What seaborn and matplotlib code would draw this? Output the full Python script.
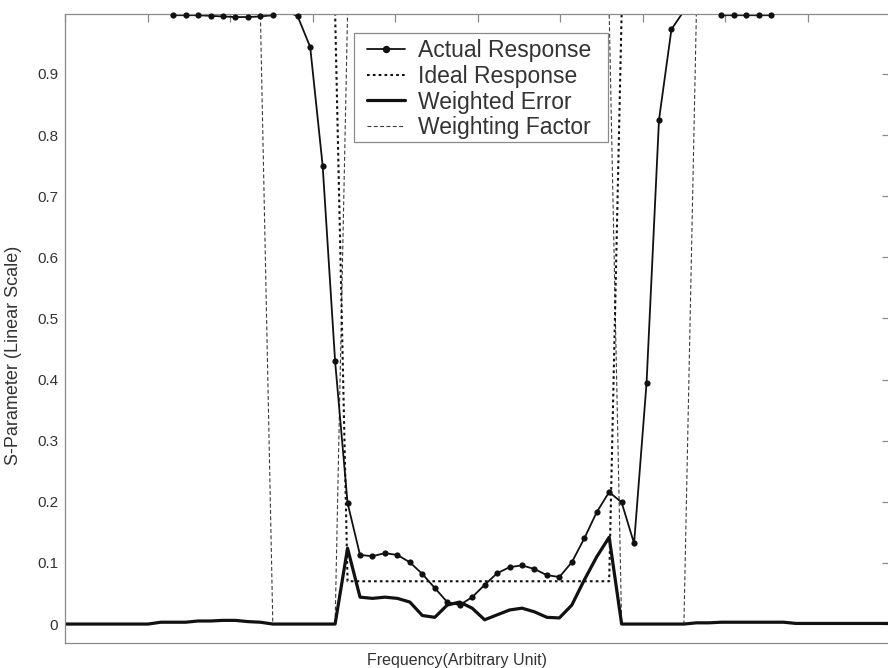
import numpy as np
import pandas as pd
import matplotlib
matplotlib.use("Agg")
import matplotlib.pyplot as plt
from matplotlib.lines import Line2D
from matplotlib.patches import Rectangle
import seaborn as sns

# Frequency sweep (arbitrary units), uniform step
freq = np.round(-0.048 + 0.151 * np.arange(68), 3)

# Simulated filter response |S|
actual = [1.002, 1.002, 1.002, 1.002, 1.002, 1.002, 1.002, 1.002, 1.003,
          0.996, 0.996, 0.996, 0.995, 0.994, 0.993, 0.993, 0.994, 0.996,
          1.004, 0.994, 0.944, 0.750, 0.430, 0.198,
          0.113, 0.111, 0.116, 0.113, 0.101, 0.082, 0.059, 0.036, 0.031,
          0.044, 0.064, 0.083, 0.093, 0.096, 0.090, 0.080, 0.077, 0.101,
          0.140, 0.183, 0.216, 0.199, 0.132, 0.394, 0.825, 0.973,
          1.003, 1.004, 1.004, 0.996, 0.996, 0.996, 0.996, 0.996, 1.003,
          1.002, 1.002, 1.002, 1.002, 1.002, 1.002, 1.002, 1.002, 1.002]

# Target mask: 1 in the stop bands, 0.07 in the pass band
ideal = [1.0] * 23 + [0.07] * 22 + [1.0] * 23

# Weighting: zero over the transition bands
weight = [1] * 17 + [0] * 6 + [1] * 22 + [0] * 6 + [1] * 17

# Weighted error
werror = [0, 0, 0, 0, 0, 0, 0, 0, 0.003,
          0.003, 0.003, 0.005, 0.005, 0.006, 0.006, 0.004, 0.003, 0,
          0, 0, 0, 0, 0, 0.124,
          0.044, 0.042, 0.044, 0.042, 0.036, 0.014, 0.011, 0.031, 0.036,
          0.026, 0.007, 0.015, 0.023, 0.026, 0.020, 0.011, 0.010, 0.031,
          0.072, 0.110, 0.142, 0, 0, 0, 0, 0, 0,
          0.002, 0.002, 0.003, 0.003, 0.003, 0.003, 0.003, 0.003,
          0.001, 0.001, 0.001, 0.001, 0.001, 0.001, 0.001, 0.001, 0.001]

series_labels = ["Actual Response", "Ideal Response", "Weighted Error", "Weighting Factor"]
y_ticks = [0, 0.1, 0.2, 0.3, 0.4, 0.5, 0.6, 0.7, 0.8, 0.9]
y_tick_labels = ["0", "0.1", "0.2", "0.3", "0.4", "0.5", "0.6", "0.7", "0.8", "0.9"]
x_ticks = [0, 1, 2, 3, 4, 5, 6, 7, 8, 9, 10]
x_label = "Frequency(Arbitrary Unit)"
y_label = "S-Parameter (Linear Scale)"

assert len(actual) == len(ideal) == len(weight) == len(werror) == len(freq)

sns.set_theme(style="white")
plt.rcParams["font.family"] = ["Liberation Sans", "DejaVu Sans"]

W, H, DPI = 888, 668, 100
AX_L, AX_R, AX_T, AX_B = 65, 890, 14, 643
AW, AH = AX_R - AX_L, AX_B - AX_T


def px_to_axes(px, py):
    return (px - AX_L) / AW, (AX_B - py) / AH


fig = plt.figure(figsize=(W / DPI, H / DPI), dpi=DPI)
fig.patch.set_facecolor("white")
ax = fig.add_axes([AX_L / W, 1 - AX_B / H, AW / W, AH / H])
ax.set_facecolor("white")

Y_TOP = 0.998
ax.set_xlim(0, 10)
ax.set_ylim(-0.031, Y_TOP)

line_col = "#111111"
dash_col = "#3a3a3a"

df = pd.DataFrame({"freq": freq, "actual": actual, "ideal": ideal,
                   "weight": weight, "werror": werror})

# weighting factor (thin dashed)
sns.lineplot(data=df, x="freq", y="weight", ax=ax, color=dash_col, lw=0.8,
             estimator=None, sort=False)
ax.lines[-1].set_dashes((3.5, 2.2))
# ideal response (dotted)
sns.lineplot(data=df, x="freq", y="ideal", ax=ax, color=line_col, lw=1.5,
             estimator=None, sort=False)
ax.lines[-1].set_dashes((1.3, 1.5))
# weighted error (thick solid)
sns.lineplot(data=df, x="freq", y="werror", ax=ax, color=line_col, lw=2.3,
             estimator=None, sort=False)
# actual response (line with dots)
sns.lineplot(data=df, x="freq", y="actual", ax=ax, color=line_col, lw=1.3,
             estimator=None, sort=False)
inside = df[df["actual"] <= Y_TOP]
sns.scatterplot(data=inside, x="freq", y="actual", ax=ax, color=line_col,
                s=20, linewidth=0, zorder=5)
ax.collections[-1].set_clip_on(False)

# axes styling
spine_col = "#8a8a8a"
for sp in ax.spines.values():
    sp.set_color(spine_col)
    sp.set_linewidth(0.9)
ax.set_xticks(x_ticks)
ax.set_xticklabels([])
ax.set_yticks(y_ticks)
ax.set_yticklabels(y_tick_labels)
ax.tick_params(direction="in", top=True, right=True, length=6, width=0.9,
               color=spine_col, labelsize=11, labelcolor="#333333", pad=5)
ax.grid(False)

ax.set_xlabel(x_label, fontsize=11.5, color="#333333")
ax.xaxis.label.set_va("center")
ax.xaxis.set_label_coords((457 - AX_L) / AW, -(660 - AX_B) / AH)
ax.set_ylabel(y_label, fontsize=13, color="#333333")
ax.yaxis.label.set_va("center")
ax.yaxis.set_label_coords(-(AX_L - 14) / AW, (AX_B - 355) / AH)

# legend box
bx0, by0 = px_to_axes(354, 142)
bx1, by1 = px_to_axes(608, 33)
ax.add_patch(Rectangle((bx0, by0), bx1 - bx0, by1 - by0, transform=ax.transAxes,
                       facecolor="white", edgecolor=spine_col, lw=0.9,
                       zorder=6, clip_on=False))

handles = [
    Line2D([], [], color=line_col, lw=1.3, marker="o", ms=4.3, mec=line_col),
    Line2D([], [], color=line_col, lw=1.5, dashes=(1.3, 1.5)),
    Line2D([], [], color=line_col, lw=2.3),
    Line2D([], [], color=dash_col, lw=0.8, dashes=(3.5, 2.2)),
]
leg = ax.legend(handles, series_labels, loc="upper left",
                bbox_to_anchor=px_to_axes(367, 39),
                borderaxespad=0, fontsize=16.5, frameon=False, borderpad=0,
                labelspacing=0.12, handlelength=1.66, handletextpad=0.55,
                numpoints=1)
leg.set_zorder(7)
for t in leg.get_texts():
    t.set_color("#333333")

fig.savefig("out.png", dpi=DPI, facecolor="white")
